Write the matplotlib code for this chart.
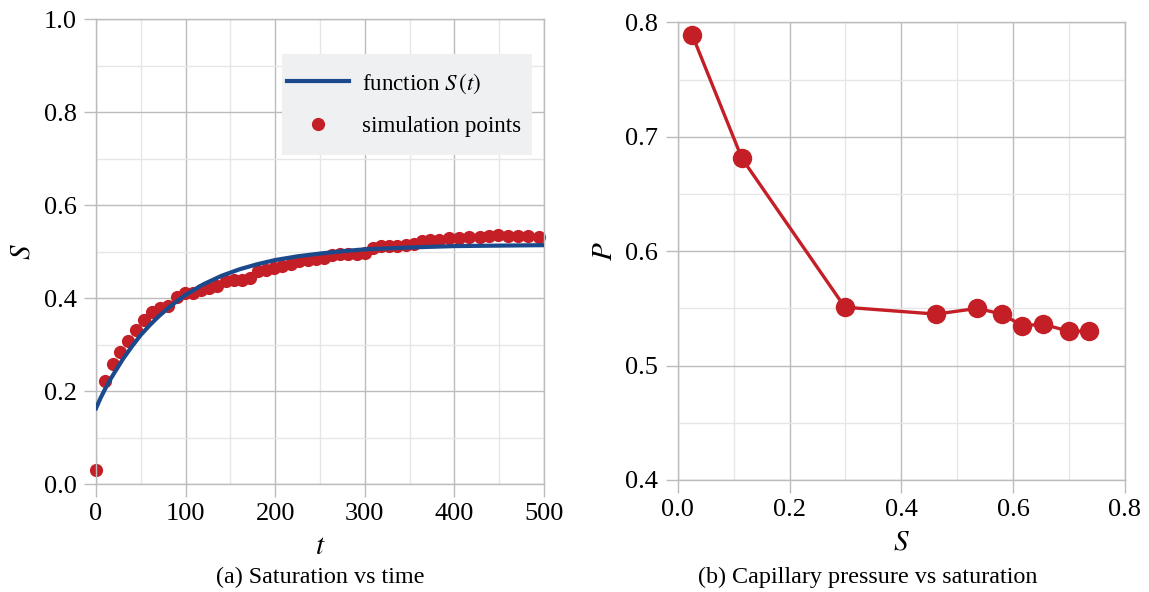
import matplotlib
matplotlib.use('Agg')
from matplotlib import pyplot as plt
from matplotlib.patches import Rectangle
from matplotlib.ticker import MultipleLocator, FormatStrFormatter

# (a) saturation vs time
t_sim = [0, 10, 19, 27, 36, 45, 54, 62, 71, 80, 90, 99, 108, 117, 126, 135,
         145, 154, 163, 172, 181, 190, 199, 208, 218, 227, 236, 245, 254, 263,
         272, 281, 291, 300, 309, 318, 327, 336, 346, 355, 364, 373, 383, 394,
         405, 416, 428, 439, 449, 460, 471, 482, 494]
s_sim = [0.030, 0.222, 0.259, 0.285, 0.308, 0.331, 0.354, 0.370, 0.379, 0.383,
         0.402, 0.410, 0.412, 0.417, 0.422, 0.426, 0.436, 0.438, 0.440, 0.444,
         0.458, 0.460, 0.464, 0.470, 0.474, 0.479, 0.482, 0.484, 0.486, 0.493,
         0.495, 0.495, 0.496, 0.498, 0.508, 0.512, 0.512, 0.513, 0.514, 0.516,
         0.522, 0.525, 0.526, 0.530, 0.530, 0.531, 0.532, 0.533, 0.535, 0.534,
         0.533, 0.534, 0.531]

t_fun = [0, 5, 10, 15, 20, 30, 40, 50, 60, 70, 80, 90, 100, 120, 140, 160,
         180, 200, 225, 250, 275, 300, 350, 400, 450, 500]
s_fun = [0.163, 0.185, 0.204, 0.222, 0.238, 0.269, 0.296, 0.321, 0.342, 0.361,
         0.378, 0.393, 0.407, 0.430, 0.448, 0.462, 0.473, 0.482, 0.490, 0.496,
         0.501, 0.505, 0.509, 0.512, 0.513, 0.514]

# (b) capillary pressure vs saturation
s_cap = [0.026, 0.115, 0.299, 0.462, 0.536, 0.580, 0.616, 0.654, 0.700, 0.736]
p_cap = [0.789, 0.681, 0.551, 0.545, 0.550, 0.545, 0.535, 0.536, 0.530, 0.530]

BLUE = '#1b4a8c'
RED = '#c41f27'
MAJOR = '#bcbcbc'
MINOR = '#e6e6e6'

plt.rcParams['font.family'] = ['Liberation Serif', 'DejaVu Serif']
plt.rcParams['mathtext.fontset'] = 'stix'


def style(ax):
    ax.set_axisbelow(True)
    ax.grid(which='major', color=MAJOR, linewidth=1.0)
    ax.grid(which='minor', color=MINOR, linewidth=1.0)
    for sp in ax.spines.values():
        sp.set_color(MAJOR)
        sp.set_linewidth(1.0)
    ax.tick_params(which='major', direction='out', length=9, width=1.0,
                   color=MAJOR, labelsize=19, pad=5)
    ax.tick_params(which='minor', length=0)


fig = plt.figure(figsize=[11.49, 5.92], dpi=100)

ax1 = fig.add_axes([0.0836, 0.1824, 0.3899, 0.785])
ax1.plot(t_fun, s_fun, color=BLUE, linewidth=3, label='function $S\\,(t)$',
         zorder=3)
ax1.plot(t_sim, s_sim, 'o', color=RED, markersize=9.5, markeredgewidth=0,
         label='simulation points', clip_on=False, zorder=2)
ax1.set_xlim(0, 500)
ax1.set_ylim(0, 1)
ax1.xaxis.set_major_locator(MultipleLocator(100))
ax1.xaxis.set_minor_locator(MultipleLocator(50))
ax1.yaxis.set_major_locator(MultipleLocator(0.2))
ax1.yaxis.set_minor_locator(MultipleLocator(0.1))
ax1.yaxis.set_major_formatter(FormatStrFormatter('%.1f'))
style(ax1)
ax1.set_xlabel('$t$', fontsize=21, labelpad=6)
ax1.set_ylabel('$S$', fontsize=21, labelpad=5.5)

# legend background box
ax1.add_patch(Rectangle((0.4145, 0.708), 0.558, 0.217, transform=ax1.transAxes,
                        facecolor='#eff0f1', edgecolor='none', zorder=4))
leg = ax1.legend(loc='center left', bbox_to_anchor=(0.4252, 0.8177),
                 borderaxespad=0, fontsize=16.6, frameon=False,
                 handlelength=2.73, handletextpad=0.54, borderpad=0,
                 labelspacing=0.87)
leg.set_zorder(5)

ax2 = fig.add_axes([0.5898, 0.1892, 0.3893, 0.7731])
ax2.plot(s_cap, p_cap, '-o', color=RED, linewidth=2.4, markersize=14,
         markeredgewidth=0, clip_on=False)
ax2.set_xlim(0, 0.8)
ax2.set_ylim(0.4, 0.8)
ax2.xaxis.set_major_locator(MultipleLocator(0.2))
ax2.xaxis.set_minor_locator(MultipleLocator(0.1))
ax2.yaxis.set_major_locator(MultipleLocator(0.1))
ax2.yaxis.set_minor_locator(MultipleLocator(0.05))
ax2.xaxis.set_major_formatter(FormatStrFormatter('%.1f'))
ax2.yaxis.set_major_formatter(FormatStrFormatter('%.1f'))
style(ax2)
ax2.set_xlabel('$S$', fontsize=21, labelpad=6)
ax2.set_ylabel('$P$', fontsize=21, labelpad=5.5)

fig.text(320 / 1149, 1 - 577 / 592, '(a) Saturation vs time', ha='center',
         va='center', fontsize=17.4)
fig.text(868 / 1149, 1 - 577 / 592, '(b) Capillary pressure vs saturation',
         ha='center', va='center', fontsize=17.4)

fig.savefig('out.png', dpi=100)
